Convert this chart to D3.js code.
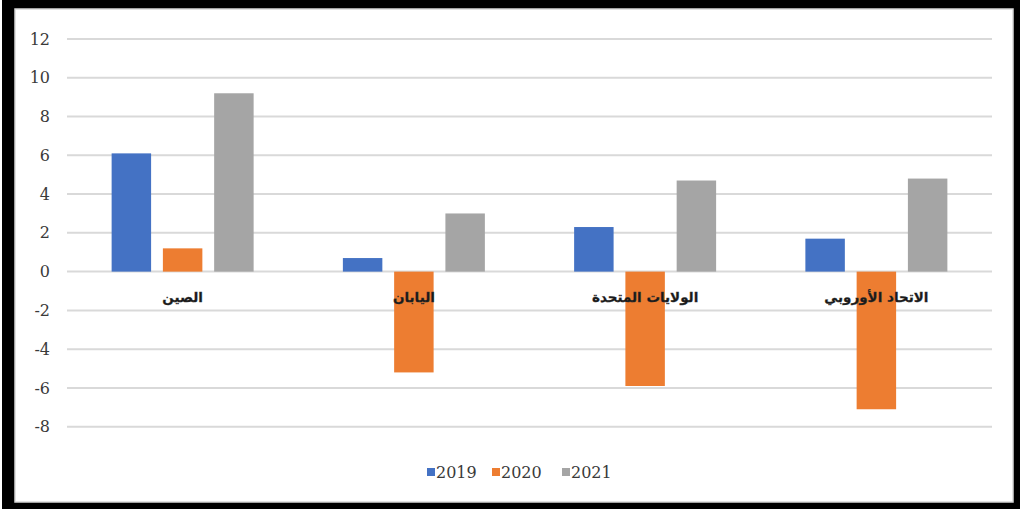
<!DOCTYPE html>
<html>
<head>
<meta charset="utf-8">
<script src="https://cdn.jsdelivr.net/npm/d3@7"></script>
<style>
  html, body { margin: 0; padding: 0; background: #fff; }
  svg { display: block; }
</style>
</head>
<body>
<svg id="chart" width="1020" height="509"></svg>
<script>
// Growth rates by economy and year
const categories = ["الصين", "اليابان", "الولايات المتحدة", "الاتحاد الأوروبي"];
const years = ["2019", "2020", "2021"];
const values2019 = [6.1, 0.7, 2.3, 1.7];
const values2020 = [1.2, -5.2, -5.9, -7.1];
const values2021 = [9.2, 3.0, 4.7, 4.8];
const yTicks = [12, 10, 8, 6, 4, 2, 0, -2, -4, -6, -8];
const colors = ["#4472C4", "#ED7D31", "#A5A5A5"];

const seriesValues = [values2019, values2020, values2021];
const serifFont = "'DejaVu Serif', 'Liberation Serif', serif";

const svg = d3.select("#chart");
const W = 1020, H = 509;

// Frame
svg.append("rect").attr("x", 2).attr("y", 0).attr("width", W - 2).attr("height", H).attr("fill", "#000");
svg.append("rect").attr("x", 15).attr("y", 9).attr("width", 998).attr("height", 493)
  .attr("fill", "#fff").attr("stroke", "#d8d8d8").attr("stroke-width", 1.5);

const plot = { left: 67, right: 992 };
const y = d3.scaleLinear().domain([-8, 12]).range([426.7, 39]);

const x0 = d3.scaleBand().domain(categories).range([plot.left, plot.right]).padding(0);
const groupW = 142;
const x1 = d3.scaleBand().domain(years)
  .range([(x0.bandwidth() - groupW) / 2, (x0.bandwidth() + groupW) / 2])
  .paddingInner(0.23).paddingOuter(0);

// Gridlines
svg.append("g").selectAll("line").data(yTicks).join("line")
  .attr("x1", plot.left).attr("x2", plot.right)
  .attr("y1", d => y(d)).attr("y2", d => y(d))
  .attr("stroke", "#d9d9d9").attr("stroke-width", 2);

// Y axis labels (plain hyphen for negatives)
const yAxis = d3.axisLeft(y).tickValues(yTicks).tickSize(0).tickPadding(0).tickFormat(d => String(d));
const yg = svg.append("g").attr("transform", "translate(50,0)").call(yAxis)
  .attr("font-family", serifFont).attr("font-size", 16);
yg.select(".domain").remove();
yg.selectAll("text")
  .style("font-family", serifFont)
  .attr("fill", "#3a3a3a");

// Bars
const groups = svg.append("g").selectAll("g").data(categories).join("g")
  .attr("transform", d => `translate(${x0(d)},0)`);

groups.selectAll("rect")
  .data((c, i) => years.map((yr, s) => ({ yr, s, v: seriesValues[s][i] })))
  .join("rect")
  .attr("x", d => x1(d.yr))
  .attr("width", x1.bandwidth())
  .attr("y", d => y(Math.max(0, d.v)))
  .attr("height", d => Math.abs(y(d.v) - y(0)))
  .attr("fill", d => colors[d.s]);

// Category labels
svg.append("g").selectAll("text").data(categories).join("text")
  .attr("x", d => x0(d) + x0.bandwidth() / 2)
  .attr("y", 302)
  .attr("text-anchor", "middle")
  .attr("direction", "rtl")
  .style("font-family", "'DejaVu Sans', sans-serif")
  .style("font-weight", "bold")
  .style("font-size", "13.5px")
  .attr("fill", "#1a1a1a")
  .attr("stroke", "#333")
  .attr("stroke-width", 0.3)
  .text(d => d);

// Legend
const legendX = [427, 492, 562];
const legend = svg.append("g").selectAll("g").data(years).join("g")
  .attr("transform", (d, i) => `translate(${legendX[i]},468)`);
legend.append("rect").attr("width", 8).attr("height", 8)
  .attr("fill", (d, i) => colors[i]);
legend.append("text").attr("x", 9).attr("y", 9.5)
  .style("font-family", serifFont)
  .style("font-size", "16px")
  .attr("fill", "#3a3a3a")
  .text(d => d);
</script>
</body>
</html>
